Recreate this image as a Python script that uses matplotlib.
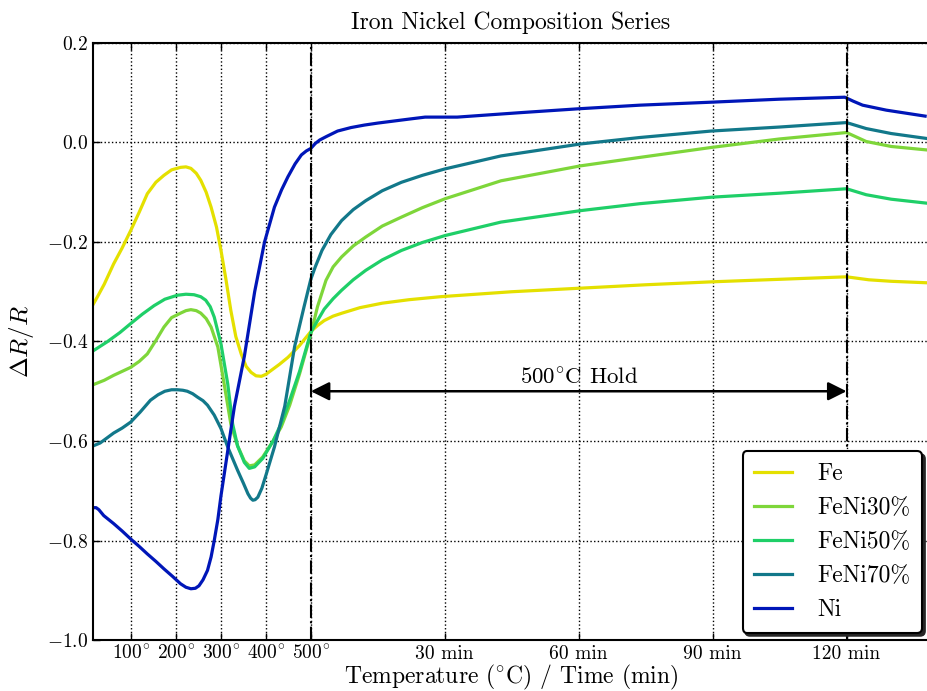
import numpy as np
import matplotlib
matplotlib.use("Agg")
import matplotlib.pyplot as plt

plt.rcParams["font.family"] = "serif"
plt.rcParams["font.serif"] = ["cmr10"]
plt.rcParams["mathtext.fontset"] = "cm"
plt.rcParams["axes.formatter.use_mathtext"] = True
plt.rcParams["font.size"] = 14

# ramp part: temperature (C), hold part: minutes at 500C
fe_T = [15, 25, 40, 61, 80, 99, 118, 136, 155, 173, 190, 210, 222, 233, 245, 255, 267, 278,
        290, 300, 311, 322, 333, 345, 356, 367, 378, 390, 400, 412, 430, 449, 475, 500]
fe_ramp = [-0.326, -0.310, -0.285, -0.244, -0.212, -0.177, -0.140, -0.103, -0.080, -0.066,
           -0.055, -0.050, -0.049, -0.052, -0.062, -0.076, -0.100, -0.130, -0.170, -0.217,
           -0.275, -0.338, -0.390, -0.425, -0.450, -0.462, -0.469, -0.470, -0.466, -0.458,
           -0.446, -0.432, -0.408, -0.380]
fe_t = [0, 1.5, 3, 5, 7, 11, 16, 22, 29, 45, 60, 75, 90, 105, 120, 125, 130, 138]
fe_hold = [-0.380, -0.368, -0.358, -0.349, -0.343, -0.332, -0.323, -0.316, -0.310, -0.300,
           -0.293, -0.286, -0.280, -0.275, -0.270, -0.276, -0.279, -0.282]

ni30_T = [15, 40, 61, 80, 99, 118, 136, 155, 173, 190, 210, 222, 233, 245, 255, 267, 278,
          293, 307, 322, 337, 352, 363, 375, 393, 416, 434, 453, 475, 500]
ni30_ramp = [-0.487, -0.478, -0.468, -0.460, -0.452, -0.440, -0.425, -0.398, -0.371, -0.352,
             -0.343, -0.338, -0.336, -0.338, -0.343, -0.354, -0.371, -0.411, -0.485, -0.566,
             -0.610, -0.640, -0.650, -0.648, -0.632, -0.600, -0.572, -0.528, -0.465, -0.385]
ni30_t = [0, 1.5, 3.4, 5, 6.9, 9.5, 12.3, 16, 20.3, 25, 30.1, 42.6, 60.4, 73.7, 89.7, 104.9,
          120, 124.4, 130, 138]
ni30_hold = [-0.385, -0.330, -0.277, -0.250, -0.230, -0.208, -0.190, -0.168, -0.150, -0.131,
             -0.113, -0.077, -0.047, -0.030, -0.010, 0.007, 0.020, 0.002, -0.008, -0.015]

ni50_T = [15, 46, 75, 99, 125, 151, 175, 203, 222, 240, 255, 266, 276, 285, 300, 315, 326,
          337, 352, 363, 375, 393, 416, 434, 453, 475, 500]
ni50_ramp = [-0.419, -0.401, -0.382, -0.364, -0.345, -0.328, -0.315, -0.307, -0.305, -0.306,
             -0.310, -0.317, -0.330, -0.351, -0.405, -0.485, -0.566, -0.610, -0.643, -0.655,
             -0.652, -0.635, -0.600, -0.565, -0.518, -0.460, -0.382]
ni50_t = [0, 1.5, 3, 5, 6.9, 9.5, 12.3, 16, 20.3, 25, 30.1, 42.6, 60.4, 73.7, 89.7, 104.9,
          120, 124.4, 130, 138]
ni50_hold = [-0.382, -0.358, -0.335, -0.314, -0.297, -0.276, -0.257, -0.236, -0.217, -0.201,
             -0.187, -0.160, -0.137, -0.123, -0.110, -0.102, -0.093, -0.105, -0.114, -0.122]

ni70_T = [15, 31, 61, 80, 99, 120, 143, 160, 175, 190, 203, 215, 225, 237, 248, 260, 270,
          285, 300, 315, 337, 350, 360, 366, 371, 376, 382, 391, 401, 419, 442, 464, 485, 500]
ni70_ramp = [-0.610, -0.604, -0.584, -0.574, -0.562, -0.542, -0.518, -0.507, -0.500, -0.497,
             -0.497, -0.498, -0.500, -0.505, -0.512, -0.519, -0.528, -0.548, -0.575, -0.612,
             -0.659, -0.685, -0.706, -0.715, -0.719, -0.718, -0.713, -0.695, -0.666, -0.612,
             -0.530, -0.410, -0.330, -0.275]
ni70_t = [0, 1, 2.5, 4.5, 6.9, 9.5, 12.3, 16, 20.3, 25, 30.1, 42.6, 60.4, 73.7, 89.7, 104.9,
          120, 124.4, 130, 138]
ni70_hold = [-0.275, -0.250, -0.217, -0.185, -0.157, -0.135, -0.117, -0.097, -0.080, -0.066,
             -0.053, -0.027, -0.003, 0.010, 0.023, 0.031, 0.040, 0.028, 0.018, 0.008]

ni_T = [15, 22, 28, 39, 61, 80, 99, 118, 136, 155, 173, 192, 210, 222, 233, 243, 251, 260,
        270, 278, 285, 293, 300, 315, 330, 352, 375, 397, 419, 435, 449, 465, 479, 490, 500]
ni_ramp = [-0.734, -0.734, -0.738, -0.750, -0.766, -0.781, -0.797, -0.812, -0.827, -0.842,
           -0.857, -0.872, -0.887, -0.894, -0.897, -0.896, -0.891, -0.879, -0.860, -0.833,
           -0.800, -0.758, -0.710, -0.620, -0.530, -0.430, -0.300, -0.200, -0.130, -0.095,
           -0.069, -0.043, -0.025, -0.017, -0.012]
ni_t = [0, 1, 2, 3.5, 6, 9, 12, 15, 18.5, 22, 25.6, 32.8, 47, 60.4, 73.7, 89.7, 104.9, 119.6,
        121.5, 123.6, 128.9, 137.6]
ni_hold = [-0.012, -0.002, 0.005, 0.012, 0.023, 0.030, 0.035, 0.039, 0.043, 0.047, 0.051,
           0.051, 0.060, 0.068, 0.075, 0.081, 0.087, 0.091, 0.083, 0.075, 0.065, 0.053]

labels = ["Fe", "FeNi30%", "FeNi50%", "FeNi70%", "Ni"]
colors = ["#e4e000", "#7ed63a", "#1fcf68", "#12788a", "#0016b8"]

temp_ticks = [100, 200, 300, 400, 500]
time_ticks = [30, 60, 90, 120]

MIN_SCALE = 9.94  # x units per minute of hold


def to_x(T, t):
    return np.concatenate([np.array(T, float), 500 + MIN_SCALE * np.array(t[1:], float)])


series = [(fe_T, fe_ramp, fe_t, fe_hold), (ni30_T, ni30_ramp, ni30_t, ni30_hold),
          (ni50_T, ni50_ramp, ni50_t, ni50_hold), (ni70_T, ni70_ramp, ni70_t, ni70_hold),
          (ni_T, ni_ramp, ni_t, ni_hold)]

fig = plt.figure(figsize=(9.27, 6.91), dpi=100)
ax = fig.add_axes([0.1003, 0.0738, 0.902, 0.864])

for (T, yr, t, yh), lab, c in zip(series, labels, colors):
    x = to_x(T, t)
    y = np.concatenate([yr, yh[1:]])
    ax.plot(x, y, color=c, lw=2.3, label=lab)

end_x = 500 + MIN_SCALE * 120
ax.axvline(500, color="k", ls="-.", lw=1.5)
ax.axvline(end_x, color="k", ls="-.", lw=1.5)

ax.annotate("", xy=(500, -0.5), xytext=(end_x, -0.5),
            arrowprops=dict(arrowstyle="<|-|>", color="k", lw=1.8,
                            mutation_scale=28, shrinkA=0, shrinkB=0))
ax.text((500 + end_x) / 2, -0.472, r"$500^{\circ}$C Hold", ha="center", va="center", fontsize=16.5)

xt = temp_ticks + [500 + MIN_SCALE * m for m in time_ticks]
xl = [r"$%d^{\circ}$" % v for v in temp_ticks] + ["%d min" % m for m in time_ticks]
ax.set_xticks(xt)
ax.set_xticklabels(xl)
ax.set_xlim(15, 500 + MIN_SCALE * 138.5)
ax.set_ylim(-1.0, 0.2)
ax.set_yticks(np.arange(-1.0, 0.21, 0.2))
ax.yaxis.set_major_formatter(matplotlib.ticker.FuncFormatter(
    lambda v, p: r"$%.1f$" % (round(v, 1) + 0.0)))

ax.grid(True, color="k", ls=":", lw=1.0)
ax.tick_params(direction="in", length=5, width=1, top=True, right=False, labelsize=14)
ax.spines["right"].set_visible(False)
for s in ["left", "top", "bottom"]:
    ax.spines[s].set_linewidth(1.5)

ax.set_title("Iron Nickel Composition Series", fontsize=17, pad=10)
ax.set_xlabel(r"Temperature ($^{\circ}$C) / Time (min)", fontsize=17, labelpad=0)
ax.set_ylabel(r"$\Delta R/R$", fontsize=18, labelpad=8)

leg = ax.legend(loc="lower right", fontsize=17, fancybox=True,
                shadow={"color": "0.15", "alpha": 1.0}, framealpha=1.0,
                labelspacing=0.5, handlelength=1.6, handletextpad=1.06, borderpad=0.5,
                borderaxespad=0.3)
leg.get_frame().set_edgecolor("k")
leg.get_frame().set_linewidth(1.5)

fig.savefig("out.png", dpi=100)
